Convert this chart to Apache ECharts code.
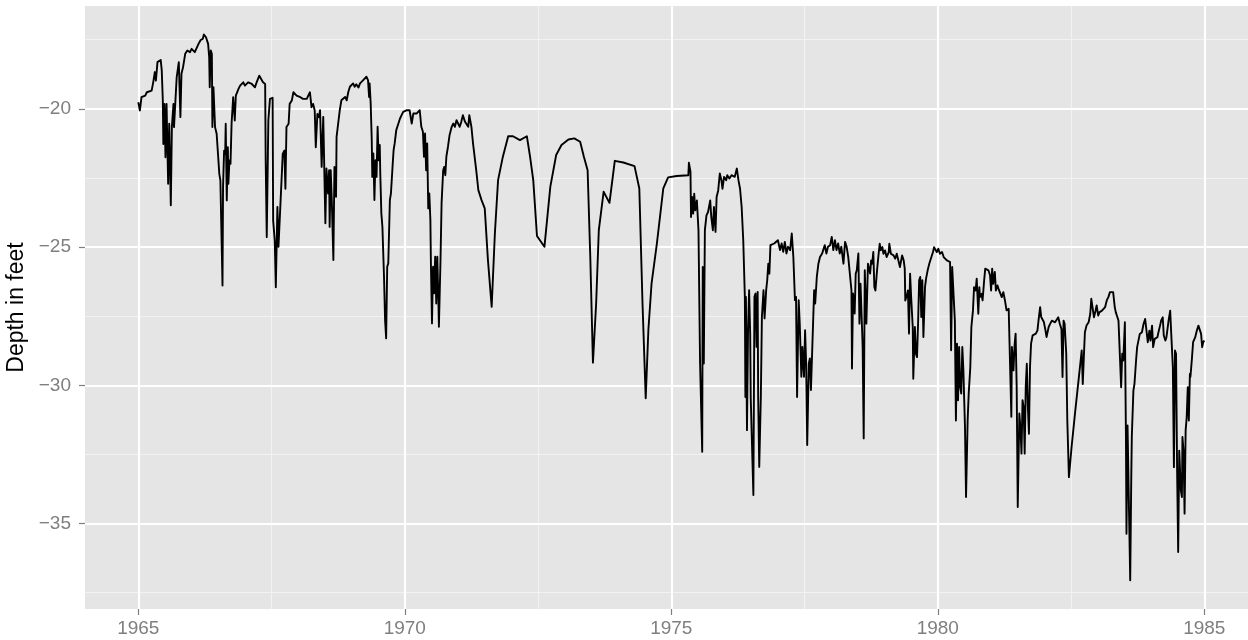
<!DOCTYPE html>
<html>
<head>
<meta charset="utf-8">
<script src="https://cdn.jsdelivr.net/npm/echarts@6/dist/echarts.min.js"></script>
<style>
  html, body { margin: 0; padding: 0; background: #fff; }
  #chart { width: 1248px; height: 640px; }
</style>
</head>
<body>
<div id="chart"></div>
<script>
// well depth readings [decimal year, depth in feet], split by period
const depth1965 = [
  [1965.00,-19.76],[1965.03,-20.06],[1965.06,-19.58],[1965.13,-19.52],[1965.16,-19.40],[1965.25,-19.34],
  [1965.28,-19.04],[1965.31,-18.67],[1965.33,-18.98],[1965.36,-18.31],[1965.39,-18.25],[1965.42,-18.23],
  [1965.44,-18.61],[1965.46,-19.70],[1965.47,-21.27],[1965.49,-19.82],[1965.51,-21.75],[1965.53,-19.82],
  [1965.56,-22.71],[1965.58,-20.54],[1965.61,-23.49],[1965.63,-20.66],[1965.66,-19.82],[1965.67,-20.66],
  [1965.72,-18.86],[1965.76,-18.31],[1965.78,-18.37],[1965.79,-20.30],[1965.81,-18.73],[1965.84,-18.49],
  [1965.88,-18.01],[1965.92,-17.89],[1965.97,-17.95],[1966.00,-17.83],[1966.06,-17.95],[1966.13,-17.65],
  [1966.17,-17.51],[1966.21,-17.47],[1966.23,-17.31],[1966.27,-17.41],[1966.31,-17.65],[1966.33,-18.13],
  [1966.34,-19.22],[1966.36,-17.89],[1966.38,-18.01],[1966.39,-20.66],[1966.41,-19.22],[1966.44,-20.66],
  [1966.47,-20.90],[1966.52,-22.35],[1966.54,-22.59],[1966.58,-26.39],[1966.59,-22.83],[1966.61,-21.51],
  [1966.63,-21.63],[1966.64,-20.54],[1966.66,-23.31],[1966.68,-21.39],[1966.69,-22.71],[1966.71,-21.87],
  [1966.73,-21.99],[1966.75,-20.54],[1966.78,-19.58],[1966.81,-20.42],[1966.83,-19.52],[1966.88,-19.28],
  [1966.91,-19.16],[1966.97,-19.04],[1967.00,-19.16],[1967.06,-19.04],[1967.13,-19.10],[1967.19,-19.22],
  [1967.22,-19.04],[1967.27,-18.80],[1967.30,-18.73],[1967.34,-19.04],[1967.38,-19.10],[1967.39,-21.87],
  [1967.41,-24.64],[1967.44,-20.42],[1967.47,-19.64],[1967.52,-19.60],[1967.53,-24.04],[1967.56,-24.76],
  [1967.58,-26.45],[1967.61,-23.55],[1967.63,-24.99],[1967.67,-23.31],[1967.71,-21.63],[1967.74,-21.51],
  [1967.76,-22.89],[1967.78,-20.66],[1967.82,-20.54],[1967.84,-19.82],[1967.88,-19.70],[1967.91,-19.40],
  [1967.97,-19.52],[1968.00,-19.58],[1968.04,-19.58],[1968.09,-19.64],[1968.16,-19.64],[1968.22,-19.40],
  [1968.25,-19.94],[1968.28,-19.82],[1968.31,-20.06],[1968.33,-21.39],[1968.36,-20.18],[1968.39,-20.30]
];

const depth1968 = [
  [1968.41,-20.05],[1968.44,-22.10],[1968.47,-20.29],[1968.49,-20.35],[1968.51,-24.14],[1968.53,-22.16],
  [1968.56,-23.06],[1968.58,-22.22],[1968.59,-24.27],[1968.61,-22.22],[1968.63,-23.30],[1968.66,-25.47],
  [1968.68,-22.10],[1968.71,-23.18],[1968.72,-21.01],[1968.75,-20.95],[1968.78,-20.05],[1968.81,-19.69],
  [1968.84,-19.63],[1968.88,-19.57],[1968.91,-19.69],[1968.94,-19.39],[1968.97,-19.20],[1969.00,-19.14],
  [1969.03,-19.08],[1969.06,-19.20],[1969.09,-19.11],[1969.13,-19.23],[1969.16,-19.08],[1969.19,-19.02],
  [1969.22,-18.96],[1969.25,-18.90],[1969.28,-18.84],[1969.31,-18.96],[1969.33,-19.57],[1969.34,-19.08],
  [1969.36,-19.81],[1969.38,-21.13],[1969.39,-22.46],[1969.41,-21.61],[1969.43,-23.30],[1969.45,-21.86],
  [1969.47,-22.46],[1969.49,-20.65],[1969.51,-21.86],[1969.53,-21.31],[1969.54,-22.34],[1969.56,-23.78],
  [1969.58,-24.27],[1969.61,-26.07],[1969.63,-27.64],[1969.65,-28.30],[1969.67,-25.71],[1969.69,-25.59],
  [1969.72,-23.30],[1969.74,-23.06],[1969.77,-22.10],[1969.79,-21.49],[1969.81,-21.25],[1969.84,-20.77],
  [1969.88,-20.53],[1969.91,-20.35],[1969.94,-20.23],[1969.97,-20.11],[1970.00,-20.07],[1970.04,-20.05],
  [1970.09,-20.05],[1970.13,-20.53],[1970.16,-20.17],[1970.19,-20.19],[1970.22,-20.17],[1970.25,-20.23],
  [1970.28,-20.05],[1970.31,-20.65],[1970.34,-20.83],[1970.36,-21.73],[1970.38,-20.89],[1970.40,-22.22],
  [1970.42,-21.25],[1970.44,-23.60],[1970.46,-23.06],[1970.48,-24.02],[1970.49,-25.59],[1970.51,-27.76],
  [1970.53,-25.71],[1970.55,-26.67],[1970.57,-25.35],[1970.59,-27.04],[1970.61,-25.35],[1970.63,-26.92],
  [1970.64,-27.88],[1970.67,-25.47],[1970.69,-23.42],[1970.72,-22.22],[1970.74,-22.10],[1970.76,-22.40],
  [1970.78,-21.73],[1970.81,-21.37],[1970.84,-20.95],[1970.88,-20.65],[1970.91,-20.53],[1970.94,-20.65],
  [1970.97,-20.41],[1971.00,-20.53],[1971.03,-20.65],[1971.06,-20.47],[1971.09,-20.23],[1971.13,-20.47],
  [1971.16,-20.47],[1971.19,-20.65],[1971.21,-20.23],[1971.23,-20.29],[1971.25,-20.65],[1971.28,-21.25],
  [1971.34,-22.22],[1971.38,-22.94],[1971.44,-23.30],[1971.50,-23.60],[1971.56,-25.47],[1971.63,-27.16],
  [1971.69,-24.51],[1971.75,-22.58],[1971.84,-21.73],[1971.94,-20.99],[1972.03,-20.99],[1972.16,-21.13]
];

const depth1972 = [
  [1972.18,-21.19],[1972.29,-20.99],[1972.35,-21.73],[1972.41,-22.58],[1972.48,-24.60],[1972.62,-24.99],
  [1972.73,-22.82],[1972.84,-21.67],[1972.94,-21.31],[1973.07,-21.11],[1973.18,-21.07],[1973.29,-21.19],
  [1973.36,-21.73],[1973.43,-22.22],[1973.48,-25.35],[1973.53,-29.18],[1973.59,-27.04],[1973.64,-24.39],
  [1973.73,-23.00],[1973.84,-23.40],[1973.94,-21.88],[1974.10,-21.94],[1974.31,-22.07],[1974.40,-22.88],
  [1974.46,-27.04],[1974.52,-30.47],[1974.57,-28.00],[1974.63,-26.31],[1974.73,-24.87],[1974.85,-22.88],
  [1974.94,-22.48],[1975.10,-22.43],[1975.32,-22.40],[1975.33,-21.95],[1975.36,-22.28]
];

const depth1975 = [
  [1975.37,-23.91],[1975.39,-23.19],[1975.41,-23.79],[1975.43,-23.07],[1975.45,-23.67],[1975.48,-23.31],
  [1975.51,-24.39],[1975.54,-29.21],[1975.58,-32.40],[1975.59,-25.72],[1975.61,-29.21],[1975.63,-24.39],
  [1975.66,-23.85],[1975.69,-23.73],[1975.73,-23.31],[1975.75,-23.91],[1975.78,-24.39],[1975.80,-23.55],
  [1975.83,-24.45],[1975.85,-23.19],[1975.88,-22.95],[1975.91,-22.34],[1975.94,-22.58],[1975.96,-22.89],
  [1975.99,-22.46],[1976.03,-22.58],[1976.05,-22.40],[1976.09,-22.52],[1976.13,-22.40],[1976.16,-22.46],
  [1976.19,-22.46],[1976.23,-22.16],[1976.26,-22.58],[1976.29,-22.89],[1976.32,-23.55],[1976.35,-24.75],
  [1976.38,-26.80],[1976.39,-30.42],[1976.40,-26.80],[1976.42,-31.62],[1976.44,-28.01],[1976.46,-26.56],
  [1976.48,-28.13],[1976.49,-30.42],[1976.51,-31.86],[1976.54,-33.97],[1976.56,-26.80],[1976.58,-26.68],
  [1976.60,-28.61],[1976.62,-26.62],[1976.63,-30.42],[1976.65,-32.95],[1976.68,-30.42],[1976.70,-27.52],
  [1976.73,-26.56],[1976.75,-27.58],[1976.78,-26.56],[1976.80,-26.20],[1976.82,-25.60],[1976.84,-25.96],
  [1976.86,-24.93],[1976.89,-24.93],[1976.93,-24.87],[1976.96,-24.81],[1977.00,-24.75],[1977.04,-25.11],
  [1977.07,-24.87],[1977.10,-25.17],[1977.13,-24.81],[1977.16,-25.23],[1977.19,-24.99],[1977.23,-25.11],
  [1977.26,-24.51],[1977.29,-25.36],[1977.32,-26.92],[1977.34,-26.80],[1977.36,-30.42],[1977.39,-26.92],
  [1977.41,-27.77],[1977.44,-29.69],[1977.46,-28.61],[1977.49,-29.69],[1977.51,-28.01],[1977.53,-29.21],
  [1977.55,-32.16],[1977.58,-29.21],[1977.60,-29.03],[1977.62,-30.17],[1977.64,-28.97],[1977.68,-26.56],
  [1977.70,-27.04],[1977.73,-26.08],[1977.76,-25.60],[1977.79,-25.36],[1977.83,-25.23],[1977.85,-25.11],
  [1977.88,-24.93],[1977.91,-25.23],[1977.94,-24.99],[1977.98,-24.93],[1978.01,-24.63],[1978.04,-25.11],
  [1978.07,-24.75],[1978.10,-25.11],[1978.13,-24.87],[1978.16,-25.23],[1978.19,-24.99],[1978.23,-25.60],
  [1978.26,-24.81],[1978.29,-24.99],[1978.32,-25.36],[1978.35,-25.36],[1978.38,-26.56],[1978.39,-29.39],
  [1978.41,-26.68],[1978.44,-27.40],[1978.46,-25.96],[1978.48,-25.84],[1978.51,-25.23],[1978.53,-27.77],
  [1978.55,-26.32],[1978.58,-28.01],[1978.59,-28.61],[1978.61,-31.92],[1978.63,-25.84],[1978.66,-27.77],
  [1978.69,-25.60],[1978.73,-25.96]
];

const depth1978 = [
  [1978.75,-25.48],[1978.77,-25.60],[1978.79,-25.18],[1978.81,-26.45],[1978.83,-26.57],[1978.86,-25.84],
  [1978.89,-25.24],[1978.91,-24.88],[1978.93,-25.12],[1978.96,-25.00],[1978.98,-25.24],[1979.01,-25.12],
  [1979.04,-25.36],[1979.08,-25.18],[1979.09,-24.88],[1979.12,-25.24],[1979.14,-25.18],[1979.17,-25.30],
  [1979.20,-25.42],[1979.23,-25.24],[1979.26,-25.30],[1979.29,-25.72],[1979.33,-25.30],[1979.36,-25.48],
  [1979.38,-25.78],[1979.39,-26.93],[1979.42,-26.75],[1979.44,-26.57],[1979.46,-28.13],[1979.48,-25.96],
  [1979.50,-26.81],[1979.53,-27.89],[1979.54,-29.76],[1979.57,-27.89],[1979.59,-28.86],[1979.61,-28.98],
  [1979.63,-27.77],[1979.65,-26.20],[1979.67,-26.08],[1979.69,-27.53],[1979.71,-26.20],[1979.73,-28.25],
  [1979.76,-26.45],[1979.78,-26.14],[1979.81,-25.84],[1979.84,-25.60],[1979.88,-25.36],[1979.91,-25.18],
  [1979.93,-25.00],[1979.96,-24.94],[1979.98,-25.18],[1980.01,-25.06],[1980.04,-25.24],[1980.08,-25.18],
  [1980.11,-25.36],[1980.14,-25.30],[1980.17,-25.48],[1980.20,-25.42],[1980.23,-25.54],[1980.25,-28.73],
  [1980.27,-25.72],[1980.29,-25.78],[1980.32,-27.65],[1980.34,-31.27],[1980.36,-28.49],[1980.38,-30.54],
  [1980.40,-28.61],[1980.42,-30.06],[1980.44,-30.30],[1980.46,-28.61],[1980.48,-29.46],[1980.51,-31.51],
  [1980.53,-34.04],[1980.56,-31.27],[1980.58,-30.30],[1980.61,-29.34],[1980.63,-27.89],[1980.66,-27.29],
  [1980.68,-26.45],[1980.71,-26.57],[1980.73,-26.14],[1980.76,-27.41],[1980.78,-26.45],[1980.79,-26.81],
  [1980.82,-26.69],[1980.84,-26.93],[1980.87,-26.20],[1980.89,-25.78],[1980.92,-25.72],[1980.95,-25.84],
  [1980.98,-26.02],[1981.00,-26.57],[1981.02,-25.78],[1981.04,-26.33],[1981.07,-25.90],[1981.09,-26.57],
  [1981.12,-26.39],[1981.14,-26.51],[1981.17,-26.57],[1981.20,-26.81],[1981.23,-26.63],[1981.26,-26.93],
  [1981.29,-27.29],[1981.33,-27.23],[1981.36,-27.29],[1981.38,-31.14],[1981.39,-28.61],[1981.42,-29.46],
  [1981.44,-28.55],[1981.46,-28.13],[1981.48,-30.06],[1981.50,-34.40],[1981.53,-31.02],[1981.55,-31.51],
  [1981.57,-32.47],[1981.59,-30.54],[1981.61,-30.78],[1981.63,-32.47],[1981.65,-30.06],[1981.67,-29.22],
  [1981.69,-30.78],[1981.71,-31.75],[1981.73,-29.34],[1981.75,-28.49],[1981.78,-28.19],[1981.81,-28.13],
  [1981.84,-28.13],[1981.87,-28.01],[1981.89,-27.65],[1981.92,-27.17],[1981.94,-27.53],[1981.97,-27.53],
  [1981.99,-27.71],[1982.02,-28.01],[1982.04,-28.25],[1982.08,-27.89],[1982.11,-27.77]
];

const depth1982 = [
  [1982.14,-27.66],[1982.20,-27.72],[1982.26,-27.54],[1982.29,-27.78],[1982.32,-27.96],[1982.34,-29.70],
  [1982.36,-27.66],[1982.38,-27.78],[1982.41,-28.86],[1982.43,-31.27],[1982.46,-33.32],[1982.51,-32.23],
  [1982.58,-30.91],[1982.64,-29.83],[1982.70,-28.74],[1982.72,-29.95],[1982.74,-28.98],[1982.76,-28.08],
  [1982.79,-27.84],[1982.83,-27.72],[1982.86,-27.42],[1982.88,-26.87],[1982.91,-26.93],[1982.93,-27.54],
  [1982.96,-27.30],[1982.98,-27.11],[1983.01,-27.48],[1983.03,-27.36],[1983.08,-27.30],[1983.11,-27.23],
  [1983.14,-27.17],[1983.17,-26.93],[1983.20,-26.81],[1983.23,-26.63],[1983.26,-26.69],[1983.29,-26.63],
  [1983.32,-27.17],[1983.34,-27.36],[1983.37,-27.54],[1983.39,-27.66],[1983.42,-29.10],[1983.44,-30.07],
  [1983.46,-28.86],[1983.48,-29.10],[1983.51,-27.72],[1983.53,-31.87],[1983.54,-35.37],[1983.56,-31.45],
  [1983.58,-33.68],[1983.61,-37.05],[1983.63,-33.32],[1983.64,-31.87],[1983.67,-30.19],[1983.69,-29.95],
  [1983.72,-29.10],[1983.74,-28.62],[1983.77,-28.68],[1983.79,-28.14],[1983.83,-28.08],[1983.86,-27.78],
  [1983.89,-27.60],[1983.92,-27.54],[1983.94,-28.44],[1983.97,-28.02],[1983.99,-28.38],[1984.02,-27.84],
  [1984.04,-28.62],[1984.07,-28.32],[1984.09,-28.38],[1984.12,-28.26],[1984.14,-28.08],[1984.17,-27.84],
  [1984.19,-27.66],[1984.22,-27.54],[1984.24,-28.20],[1984.27,-28.38],[1984.29,-28.26],[1984.33,-27.66],
  [1984.36,-27.30],[1984.38,-28.14],[1984.41,-29.34],[1984.43,-32.96],[1984.45,-28.74],[1984.47,-28.86],
  [1984.49,-33.08],[1984.51,-36.03],[1984.53,-32.36],[1984.56,-33.80],[1984.58,-34.04],[1984.59,-31.87],
  [1984.61,-32.36],[1984.63,-34.64],[1984.65,-31.63],[1984.67,-31.15],[1984.69,-30.07],[1984.71,-31.27],
  [1984.73,-29.58],[1984.74,-29.70],[1984.77,-28.98],[1984.79,-28.44],[1984.83,-28.26],[1984.86,-28.02],
  [1984.89,-27.84],[1984.92,-27.78],[1984.94,-28.14],[1984.96,-28.62],[1984.98,-28.44],[1985.00,-28.38]
];

const xBreaks = [1965, 1970, 1975, 1980, 1985];
const xMinorBreaks = [1967.5, 1972.5, 1977.5, 1982.5];
const yBreaks = [-35, -30, -25, -20];
const yMinorBreaks = [-37.5, -32.5, -27.5, -22.5, -17.5];

const series = [].concat(depth1965, depth1968, depth1972, depth1975, depth1978, depth1982);

const font = '"Liberation Sans", Arial, Helvetica, sans-serif';
const minus = (v) => (v < 0 ? '\u2212' + Math.abs(v) : String(v));

const gridLines = (values, axis, color, width) => ({
  type: 'line',
  data: [],
  z: 1,
  silent: true,
  animation: false,
  markLine: {
    z: 1,
    silent: true,
    animation: false,
    symbol: 'none',
    label: { show: false },
    emphasis: { disabled: true },
    lineStyle: { color: color, width: width, type: 'solid' },
    data: values.map((v) => ({ [axis]: v }))
  }
});

const chart = echarts.init(document.getElementById('chart'), null, { renderer: 'canvas' });

chart.setOption({
  animation: false,
  backgroundColor: '#ffffff',
  grid: {
    left: 85,
    right: 0,
    top: 6,
    bottom: 31,
    show: true,
    backgroundColor: '#E5E5E5',
    borderWidth: 0,
    outerBoundsMode: 'none'
  },
  xAxis: {
    type: 'value',
    min: 1964.0,
    max: 1985.82,
    axisLine: { show: false },
    axisTick: { show: true, length: 6, customValues: xBreaks, lineStyle: { color: '#7F7F7F', width: 1.2 } },
    axisLabel: {
      customValues: xBreaks,
      margin: 10,
      color: '#7F7F7F',
      fontSize: 19,
      fontFamily: font,
      formatter: (v) => String(v)
    },
    splitLine: { show: false }
  },
  yAxis: {
    type: 'value',
    min: -38.09,
    max: -16.28,
    name: 'Depth in feet',
    nameLocation: 'middle',
    nameGap: 52,
    nameTextStyle: { color: '#000000', fontSize: 23, fontFamily: font },
    axisLine: { show: false },
    axisTick: { show: true, length: 6, customValues: yBreaks, lineStyle: { color: '#7F7F7F', width: 1.2 } },
    axisLabel: {
      customValues: yBreaks,
      margin: 14,
      color: '#7F7F7F',
      fontSize: 19,
      fontFamily: font,
      formatter: minus
    },
    splitLine: { show: false }
  },
  series: [
    gridLines(xMinorBreaks, 'xAxis', '#F2F2F2', 1.1),
    gridLines(yMinorBreaks, 'yAxis', '#F2F2F2', 1.1),
    gridLines(xBreaks, 'xAxis', '#FFFFFF', 2.2),
    gridLines(yBreaks, 'yAxis', '#FFFFFF', 2.2),
    {
      name: 'depth',
      type: 'line',
      z: 3,
      data: series,
      showSymbol: false,
      symbol: 'none',
      lineStyle: { color: '#000000', width: 1.9, join: 'round' },
      silent: true
    }
  ]
});
</script>
</body>
</html>
